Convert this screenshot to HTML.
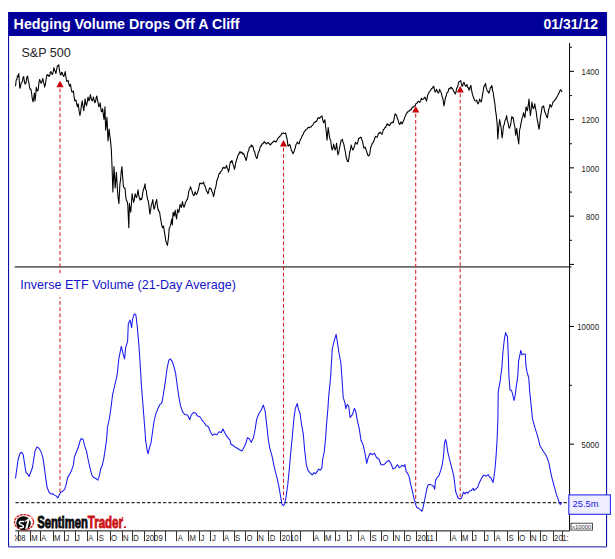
<!DOCTYPE html>
<html><head><meta charset="utf-8"><title>Hedging Volume Drops Off A Cliff</title>
<style>
html,body{margin:0;padding:0;background:#ffffff;}
body{width:615px;height:559px;position:relative;overflow:hidden;font-family:"Liberation Sans",sans-serif;}
</style></head><body>
<svg width="615" height="559" viewBox="0 0 615 559" style="position:absolute;left:0;top:0">
<rect x="0" y="0" width="615" height="559" fill="#ffffff"/>
<rect x="8" y="12" width="599" height="24" fill="#000099"/>
<rect x="8" y="12" width="1.1" height="535" fill="#1010a4"/>
<rect x="606" y="12" width="1.1" height="535" fill="#1010a4"/>
<rect x="8" y="546" width="599" height="1.6" fill="#6c6ccc"/>
<text x="13.6" y="29.3" font-family="Liberation Sans, sans-serif" font-weight="bold" font-size="14.4" fill="#ffffff" textLength="226" lengthAdjust="spacingAndGlyphs">Hedging Volume Drops Off A Cliff</text>
<text x="598" y="28.8" text-anchor="end" font-family="Liberation Sans, sans-serif" font-weight="bold" font-size="14" fill="#ffffff">01/31/12</text>
<text x="21.4" y="56.7" font-family="Liberation Sans, sans-serif" font-size="12.5" fill="#222222" textLength="49.4" lengthAdjust="spacingAndGlyphs">S&amp;P 500</text>
<text x="20.2" y="288.9" font-family="Liberation Sans, sans-serif" font-size="12.6" fill="#1414c8" textLength="215.7" lengthAdjust="spacingAndGlyphs">Inverse ETF Volume (21-Day Average)</text>
<rect x="14.7" y="266.2" width="556.8" height="1.4" fill="#444444"/>
<rect x="569" y="43" width="1.05" height="488" fill="#111111"/>
<rect x="570" y="70.8" width="4" height="1.1" fill="#111111"/>
<rect x="570" y="119.0" width="4" height="1.1" fill="#111111"/>
<rect x="570" y="167.3" width="4" height="1.1" fill="#111111"/>
<rect x="570" y="215.6" width="4" height="1.1" fill="#111111"/>
<rect x="570" y="263.9" width="4" height="1.1" fill="#111111"/>
<rect x="570" y="325.9" width="4" height="1.1" fill="#111111"/>
<rect x="570" y="443.6" width="4" height="1.1" fill="#111111"/>
<rect x="570" y="46.7" width="1.9" height="1.1" fill="#111111"/>
<rect x="570" y="95.0" width="1.9" height="1.1" fill="#111111"/>
<rect x="570" y="143.2" width="1.9" height="1.1" fill="#111111"/>
<rect x="570" y="191.5" width="1.9" height="1.1" fill="#111111"/>
<rect x="570" y="239.8" width="1.9" height="1.1" fill="#111111"/>
<rect x="570" y="384.8" width="1.9" height="1.1" fill="#111111"/>
<text transform="translate(599,75.0) scale(0.93,1)" text-anchor="end" font-family="Liberation Sans, sans-serif" font-size="8.4" fill="#222222">1400</text>
<text transform="translate(599,123.3) scale(0.93,1)" text-anchor="end" font-family="Liberation Sans, sans-serif" font-size="8.4" fill="#222222">1200</text>
<text transform="translate(599,171.6) scale(0.93,1)" text-anchor="end" font-family="Liberation Sans, sans-serif" font-size="8.4" fill="#222222">1000</text>
<text transform="translate(599,219.9) scale(0.93,1)" text-anchor="end" font-family="Liberation Sans, sans-serif" font-size="8.4" fill="#222222">800</text>
<text transform="translate(599,330.2) scale(0.93,1)" text-anchor="end" font-family="Liberation Sans, sans-serif" font-size="8.4" fill="#222222">10000</text>
<text transform="translate(599,447.9) scale(0.93,1)" text-anchor="end" font-family="Liberation Sans, sans-serif" font-size="8.4" fill="#222222">5000</text>
<rect x="15.3" y="530.2" width="554.7" height="1.3" fill="#444444"/>
<text transform="translate(31.3,540.7) scale(0.85,1)" font-family="Liberation Sans, sans-serif" font-size="9.1" fill="#2a2a2a">M</text>
<text transform="translate(41.3,540.7) scale(0.85,1)" font-family="Liberation Sans, sans-serif" font-size="9.1" fill="#2a2a2a">A</text>
<text transform="translate(54.0,540.7) scale(0.85,1)" font-family="Liberation Sans, sans-serif" font-size="9.1" fill="#2a2a2a">M</text>
<text transform="translate(65.5,540.7) scale(0.85,1)" font-family="Liberation Sans, sans-serif" font-size="9.1" fill="#2a2a2a">J</text>
<text transform="translate(76.0,540.7) scale(0.85,1)" font-family="Liberation Sans, sans-serif" font-size="9.1" fill="#2a2a2a">J</text>
<text transform="translate(88.2,540.7) scale(0.85,1)" font-family="Liberation Sans, sans-serif" font-size="9.1" fill="#2a2a2a">A</text>
<text transform="translate(98.7,540.7) scale(0.85,1)" font-family="Liberation Sans, sans-serif" font-size="9.1" fill="#2a2a2a">S</text>
<text transform="translate(110.9,540.7) scale(0.85,1)" font-family="Liberation Sans, sans-serif" font-size="9.1" fill="#2a2a2a">O</text>
<text transform="translate(123.0,540.7) scale(0.85,1)" font-family="Liberation Sans, sans-serif" font-size="9.1" fill="#2a2a2a">N</text>
<text transform="translate(133.3,540.7) scale(0.85,1)" font-family="Liberation Sans, sans-serif" font-size="9.1" fill="#2a2a2a">D</text>
<text transform="translate(145.5,540.7) scale(0.85,1)" font-family="Liberation Sans, sans-serif" font-size="9.1" fill="#2a2a2a">2009</text>
<text transform="translate(177.7,540.7) scale(0.85,1)" font-family="Liberation Sans, sans-serif" font-size="9.1" fill="#2a2a2a">A</text>
<text transform="translate(189.4,540.7) scale(0.85,1)" font-family="Liberation Sans, sans-serif" font-size="9.1" fill="#2a2a2a">M</text>
<text transform="translate(200.4,540.7) scale(0.85,1)" font-family="Liberation Sans, sans-serif" font-size="9.1" fill="#2a2a2a">J</text>
<text transform="translate(211.9,540.7) scale(0.85,1)" font-family="Liberation Sans, sans-serif" font-size="9.1" fill="#2a2a2a">J</text>
<text transform="translate(224.1,540.7) scale(0.85,1)" font-family="Liberation Sans, sans-serif" font-size="9.1" fill="#2a2a2a">A</text>
<text transform="translate(235.0,540.7) scale(0.85,1)" font-family="Liberation Sans, sans-serif" font-size="9.1" fill="#2a2a2a">S</text>
<text transform="translate(246.5,540.7) scale(0.85,1)" font-family="Liberation Sans, sans-serif" font-size="9.1" fill="#2a2a2a">O</text>
<text transform="translate(258.2,540.7) scale(0.85,1)" font-family="Liberation Sans, sans-serif" font-size="9.1" fill="#2a2a2a">N</text>
<text transform="translate(269.7,540.7) scale(0.85,1)" font-family="Liberation Sans, sans-serif" font-size="9.1" fill="#2a2a2a">D</text>
<text transform="translate(281.4,540.7) scale(0.85,1)" font-family="Liberation Sans, sans-serif" font-size="9.1" fill="#2a2a2a">2010</text>
<text transform="translate(314.1,540.7) scale(0.85,1)" font-family="Liberation Sans, sans-serif" font-size="9.1" fill="#2a2a2a">A</text>
<text transform="translate(325.0,540.7) scale(0.85,1)" font-family="Liberation Sans, sans-serif" font-size="9.1" fill="#2a2a2a">M</text>
<text transform="translate(336.8,540.7) scale(0.85,1)" font-family="Liberation Sans, sans-serif" font-size="9.1" fill="#2a2a2a">J</text>
<text transform="translate(348.2,540.7) scale(0.85,1)" font-family="Liberation Sans, sans-serif" font-size="9.1" fill="#2a2a2a">J</text>
<text transform="translate(359.9,540.7) scale(0.85,1)" font-family="Liberation Sans, sans-serif" font-size="9.1" fill="#2a2a2a">A</text>
<text transform="translate(371.4,540.7) scale(0.85,1)" font-family="Liberation Sans, sans-serif" font-size="9.1" fill="#2a2a2a">S</text>
<text transform="translate(382.4,540.7) scale(0.85,1)" font-family="Liberation Sans, sans-serif" font-size="9.1" fill="#2a2a2a">O</text>
<text transform="translate(394.6,540.7) scale(0.85,1)" font-family="Liberation Sans, sans-serif" font-size="9.1" fill="#2a2a2a">N</text>
<text transform="translate(405.5,540.7) scale(0.85,1)" font-family="Liberation Sans, sans-serif" font-size="9.1" fill="#2a2a2a">D</text>
<text transform="translate(417.2,540.7) scale(0.85,1)" font-family="Liberation Sans, sans-serif" font-size="9.1" fill="#2a2a2a">2011</text>
<text transform="translate(451.6,540.7) scale(0.85,1)" font-family="Liberation Sans, sans-serif" font-size="9.1" fill="#2a2a2a">A</text>
<text transform="translate(462.1,540.7) scale(0.85,1)" font-family="Liberation Sans, sans-serif" font-size="9.1" fill="#2a2a2a">M</text>
<text transform="translate(472.9,540.7) scale(0.85,1)" font-family="Liberation Sans, sans-serif" font-size="9.1" fill="#2a2a2a">J</text>
<text transform="translate(485.0,540.7) scale(0.85,1)" font-family="Liberation Sans, sans-serif" font-size="9.1" fill="#2a2a2a">J</text>
<text transform="translate(495.5,540.7) scale(0.85,1)" font-family="Liberation Sans, sans-serif" font-size="9.1" fill="#2a2a2a">A</text>
<text transform="translate(508.5,540.7) scale(0.85,1)" font-family="Liberation Sans, sans-serif" font-size="9.1" fill="#2a2a2a">S</text>
<text transform="translate(519.2,540.7) scale(0.85,1)" font-family="Liberation Sans, sans-serif" font-size="9.1" fill="#2a2a2a">O</text>
<text transform="translate(530.9,540.7) scale(0.85,1)" font-family="Liberation Sans, sans-serif" font-size="9.1" fill="#2a2a2a">N</text>
<text transform="translate(541.9,540.7) scale(0.85,1)" font-family="Liberation Sans, sans-serif" font-size="9.1" fill="#2a2a2a">D</text>
<text transform="translate(554.1,540.7) scale(0.85,1)" font-family="Liberation Sans, sans-serif" font-size="9.1" fill="#2a2a2a">20</text>
<text transform="translate(12.6,540.7) scale(0.85,1)" font-family="Liberation Sans, sans-serif" font-size="9.1" fill="#2a2a2a">008</text>
<rect x="9.3" y="532" width="5.6" height="10" fill="#ffffff"/>
<text transform="translate(562.3,540.7) scale(0.85,1)" font-family="Liberation Sans, sans-serif" font-size="9.1" fill="#2a2a2a">1:</text>
<rect x="18" y="531" width="1" height="10.2" fill="#333333"/>
<rect x="30" y="531" width="1" height="10.2" fill="#333333"/>
<rect x="40" y="531" width="1" height="10.2" fill="#333333"/>
<rect x="53" y="531" width="1" height="10.2" fill="#333333"/>
<rect x="64" y="531" width="1" height="10.2" fill="#333333"/>
<rect x="75" y="531" width="1" height="10.2" fill="#333333"/>
<rect x="87" y="531" width="1" height="10.2" fill="#333333"/>
<rect x="97" y="531" width="1" height="10.2" fill="#333333"/>
<rect x="110" y="531" width="1" height="10.2" fill="#333333"/>
<rect x="122" y="531" width="1" height="10.2" fill="#333333"/>
<rect x="132" y="531" width="1" height="10.2" fill="#333333"/>
<rect x="144" y="531" width="1" height="10.2" fill="#333333"/>
<rect x="154" y="531" width="1" height="10.2" fill="#333333"/>
<rect x="165" y="531" width="1" height="10.2" fill="#333333"/>
<rect x="176" y="531" width="1" height="10.2" fill="#333333"/>
<rect x="188" y="531" width="1" height="10.2" fill="#333333"/>
<rect x="199" y="531" width="1" height="10.2" fill="#333333"/>
<rect x="210" y="531" width="1" height="10.2" fill="#333333"/>
<rect x="223" y="531" width="1" height="10.2" fill="#333333"/>
<rect x="234" y="531" width="1" height="10.2" fill="#333333"/>
<rect x="245" y="531" width="1" height="10.2" fill="#333333"/>
<rect x="257" y="531" width="1" height="10.2" fill="#333333"/>
<rect x="268" y="531" width="1" height="10.2" fill="#333333"/>
<rect x="280" y="531" width="1" height="10.2" fill="#333333"/>
<rect x="291" y="531" width="1" height="10.2" fill="#333333"/>
<rect x="300" y="531" width="1" height="10.2" fill="#333333"/>
<rect x="313" y="531" width="1" height="10.2" fill="#333333"/>
<rect x="324" y="531" width="1" height="10.2" fill="#333333"/>
<rect x="335" y="531" width="1" height="10.2" fill="#333333"/>
<rect x="347" y="531" width="1" height="10.2" fill="#333333"/>
<rect x="358" y="531" width="1" height="10.2" fill="#333333"/>
<rect x="370" y="531" width="1" height="10.2" fill="#333333"/>
<rect x="381" y="531" width="1" height="10.2" fill="#333333"/>
<rect x="393" y="531" width="1" height="10.2" fill="#333333"/>
<rect x="404" y="531" width="1" height="10.2" fill="#333333"/>
<rect x="416" y="531" width="1" height="10.2" fill="#333333"/>
<rect x="426" y="531" width="1" height="10.2" fill="#333333"/>
<rect x="436" y="531" width="1" height="10.2" fill="#333333"/>
<rect x="450" y="531" width="1" height="10.2" fill="#333333"/>
<rect x="461" y="531" width="1" height="10.2" fill="#333333"/>
<rect x="472" y="531" width="1" height="10.2" fill="#333333"/>
<rect x="484" y="531" width="1" height="10.2" fill="#333333"/>
<rect x="494" y="531" width="1" height="10.2" fill="#333333"/>
<rect x="507" y="531" width="1" height="10.2" fill="#333333"/>
<rect x="518" y="531" width="1" height="10.2" fill="#333333"/>
<rect x="530" y="531" width="1" height="10.2" fill="#333333"/>
<rect x="540" y="531" width="1" height="10.2" fill="#333333"/>
<rect x="553" y="531" width="1" height="10.2" fill="#333333"/>
<rect x="562" y="531" width="1" height="10.2" fill="#333333"/>
<line x1="15.5" y1="502.7" x2="567" y2="502.7" stroke="#2a2a2a" stroke-width="1.2" stroke-dasharray="3.2,2.07"/>
<line x1="60.0" y1="88.4" x2="60.0" y2="492.0" stroke="#d42020" stroke-width="1.05" stroke-dasharray="3.75,2.5"/>
<path d="M60.0,80.7 L63.6,87.2 L56.4,87.2 z" fill="#c80008"/>
<line x1="283.5" y1="147.7" x2="283.5" y2="500.0" stroke="#d42020" stroke-width="1.05" stroke-dasharray="3.75,2.5"/>
<path d="M283.5,140.0 L287.1,146.5 L279.9,146.5 z" fill="#c80008"/>
<line x1="415.7" y1="113.8" x2="415.7" y2="502.0" stroke="#d42020" stroke-width="1.05" stroke-dasharray="3.75,2.5"/>
<path d="M415.7,106.1 L419.3,112.6 L412.1,112.6 z" fill="#c80008"/>
<line x1="460.2" y1="93.6" x2="460.2" y2="497.0" stroke="#d42020" stroke-width="1.05" stroke-dasharray="3.75,2.5"/>
<path d="M460.2,86.0 L463.8,92.4 L456.6,92.4 z" fill="#c80008"/>
<rect x="18" y="273.4" width="221" height="23.8" fill="#ffffff"/>
<text x="20.2" y="288.9" font-family="Liberation Sans, sans-serif" font-size="12.6" fill="#1414c8" textLength="215.7" lengthAdjust="spacingAndGlyphs">Inverse ETF Volume (21-Day Average)</text>
<path d="M15.5,86.2 L16.2,80.0 L16.9,79.3 L17.5,75.7 L18.1,76.6 L18.8,73.5 L19.8,88.2 L20.4,87.2 L21.1,83.2 L21.7,82.3 L22.4,81.5 L23.0,77.7 L23.7,76.5 L24.4,81.5 L25.2,84.3 L26.0,82.8 L26.8,77.4 L27.6,76.1 L28.2,80.4 L28.9,82.7 L29.5,87.2 L30.2,89.4 L30.8,89.0 L31.5,92.0 L32.2,98.2 L33.0,101.8 L33.7,98.0 L34.4,93.0 L35.0,100.9 L35.6,95.6 L36.3,87.2 L37.0,90.7 L37.7,91.0 L38.4,88.3 L39.0,82.1 L39.7,79.4 L40.5,82.0 L41.2,83.3 L42.0,81.3 L42.8,78.4 L43.4,82.2 L44.1,83.8 L44.7,87.2 L45.5,83.5 L46.3,78.1 L47.1,74.5 L47.7,75.5 L48.4,75.1 L49.0,76.5 L49.7,75.6 L50.3,72.1 L51.0,71.6 L51.8,73.9 L52.5,74.5 L53.2,71.9 L53.9,67.7 L54.6,70.3 L55.2,70.8 L55.9,73.5 L56.6,70.2 L57.4,65.7 L58.1,65.7 L58.8,64.8 L59.5,70.7 L60.3,74.5 L61.0,75.0 L61.6,72.2 L62.3,72.6 L63.0,75.3 L63.7,76.5 L64.5,74.5 L65.2,71.6 L65.9,76.9 L66.6,81.3 L67.3,81.3 L68.1,80.4 L68.8,83.6 L69.5,86.2 L70.5,84.3 L71.2,88.9 L72.0,92.0 L72.7,92.0 L73.4,91.0 L74.1,96.8 L74.8,100.9 L76.0,100.0 L76.7,104.1 L77.3,106.7 L78.3,103.8 L79.1,111.0 L79.9,115.5 L80.6,112.4 L81.2,106.7 L82.2,100.9 L83.0,106.2 L83.8,110.6 L84.4,105.5 L85.1,98.9 L85.8,103.7 L86.5,105.7 L87.2,102.3 L88.0,97.0 L89.0,100.9 L89.7,99.1 L90.4,94.6 L91.2,98.5 L92.0,100.9 L92.8,99.4 L93.5,97.0 L94.2,100.8 L94.9,102.8 L95.5,101.6 L96.2,97.6 L96.8,96.0 L97.5,100.0 L98.1,102.5 L98.8,106.7 L99.4,106.1 L100.1,102.8 L101.3,111.6 L102.0,111.6 L102.7,108.7 L103.3,114.7 L104.0,119.4 L105.0,106.7 L105.6,130.1 L106.3,124.6 L107.0,117.4 L108.0,140.9 L109.1,129.1 L109.8,135.6 L110.5,140.9 L111.3,149.0 L112.1,168.5 L112.9,192.0 L114.0,166.6 L115.2,188.0 L116.4,172.4 L117.6,192.0 L118.2,198.4 L118.9,203.7 L119.9,184.1 L120.6,179.7 L121.2,171.7 L121.9,166.6 L122.7,177.5 L123.4,186.1 L124.2,188.1 L125.0,188.0 L125.9,197.6 L126.5,200.9 L127.2,201.4 L127.8,205.4 L128.8,227.8 L129.4,203.4 L130.1,208.5 L130.7,212.2 L131.4,204.2 L132.1,193.7 L132.9,198.7 L133.7,202.4 L134.4,199.1 L135.2,193.7 L135.9,196.4 L136.6,197.6 L137.3,194.5 L138.0,189.8 L138.8,195.5 L139.5,198.5 L140.2,200.1 L140.8,198.4 L141.5,199.5 L142.1,197.6 L142.8,192.4 L143.4,189.8 L144.2,187.8 L145.0,183.9 L145.6,189.2 L146.3,190.5 L146.9,195.6 L147.6,199.4 L148.2,200.6 L148.9,205.4 L149.9,214.1 L150.6,210.5 L151.2,205.4 L152.0,203.2 L152.8,199.5 L153.4,205.7 L154.1,209.3 L154.8,207.1 L155.5,203.4 L156.7,199.5 L157.3,205.1 L158.0,209.3 L158.8,211.2 L159.6,212.2 L160.3,217.0 L161.0,221.0 L161.8,225.3 L162.5,227.8 L163.5,225.9 L164.2,230.8 L164.9,234.6 L165.6,239.5 L166.2,242.4 L167.4,245.4 L168.4,238.5 L169.2,228.8 L170.3,225.9 L171.0,223.2 L171.7,219.0 L172.3,224.9 L173.1,212.2 L174.2,216.1 L175.2,210.2 L175.9,215.5 L176.6,219.0 L177.6,209.3 L178.2,211.9 L178.9,212.2 L180.1,204.4 L180.8,206.6 L181.5,207.3 L182.4,201.5 L183.2,205.1 L184.0,207.3 L184.7,205.8 L185.4,202.4 L186.0,201.9 L186.7,200.0 L187.3,199.5 L188.0,197.2 L188.6,192.1 L189.3,189.8 L189.9,188.8 L190.6,186.8 L191.3,189.5 L191.9,190.7 L192.6,193.7 L193.8,195.6 L194.4,194.6 L195.1,191.7 L195.8,193.5 L196.5,194.6 L197.2,193.4 L198.0,190.7 L198.7,188.8 L199.3,185.0 L200.0,182.9 L200.7,183.7 L201.3,183.3 L202.0,183.9 L202.8,183.2 L203.5,182.0 L204.3,185.1 L205.1,186.1 L205.9,188.8 L206.5,191.2 L207.2,191.6 L207.8,193.7 L208.5,192.6 L209.1,189.1 L209.8,187.8 L210.6,188.9 L211.3,188.8 L212.0,191.9 L212.8,193.0 L213.5,196.6 L214.2,194.1 L214.8,190.2 L215.5,187.8 L216.1,185.6 L216.8,180.9 L217.4,179.0 L218.1,177.8 L218.7,174.6 L219.4,173.2 L220.0,173.5 L220.7,171.4 L221.3,171.2 L222.0,170.2 L222.6,168.1 L223.3,167.3 L223.9,168.3 L224.6,167.6 L225.2,168.3 L225.9,167.2 L226.6,165.4 L227.2,168.2 L227.9,169.3 L228.5,172.2 L229.2,169.0 L229.8,164.5 L230.5,161.5 L231.1,162.5 L231.8,160.4 L232.4,161.5 L233.1,165.0 L233.7,165.8 L234.4,169.3 L235.0,167.1 L235.7,163.0 L236.3,160.5 L237.0,158.8 L237.6,156.3 L238.3,154.6 L238.9,154.4 L239.6,152.0 L240.2,151.7 L240.9,153.1 L241.5,152.0 L242.2,152.7 L242.8,154.1 L243.5,153.3 L244.1,154.6 L244.8,157.2 L245.4,158.1 L246.1,160.5 L246.7,158.3 L247.4,154.4 L248.0,151.7 L248.7,150.6 L249.3,147.7 L250.0,146.8 L250.7,146.7 L251.4,144.9 L252.0,146.7 L252.7,146.0 L253.3,147.8 L254.0,151.0 L254.6,151.4 L255.3,154.6 L256.1,157.0 L256.8,158.5 L257.5,156.9 L258.1,153.2 L258.8,151.7 L259.4,150.5 L260.1,147.3 L260.7,145.9 L261.4,145.9 L262.0,143.8 L262.7,143.9 L263.4,143.1 L264.2,141.4 L264.9,142.7 L265.5,142.7 L266.2,143.9 L266.8,143.8 L267.5,142.6 L268.1,142.5 L268.8,143.5 L269.4,143.8 L270.1,144.9 L270.7,144.7 L271.4,143.2 L272.0,142.9 L272.7,142.6 L273.3,141.4 L274.0,141.0 L274.7,141.7 L275.3,141.3 L276.0,142.0 L276.8,140.9 L277.5,138.9 L278.3,138.0 L278.9,137.5 L279.6,136.4 L280.2,136.1 L280.9,135.3 L281.5,133.8 L282.2,133.2 L282.8,133.6 L283.5,132.9 L284.1,133.2 L284.9,133.5 L285.7,132.8 L286.4,136.3 L287.1,139.0 L288.0,145.9 L288.7,146.0 L289.3,144.6 L290.0,144.9 L291.0,148.8 L291.6,150.8 L292.3,151.8 L292.9,153.7 L293.6,152.6 L294.3,150.7 L295.1,148.3 L295.9,144.9 L296.6,143.8 L297.4,142.0 L298.1,143.3 L298.8,143.9 L299.4,142.9 L300.1,140.1 L300.7,139.0 L301.4,138.1 L302.0,135.8 L302.7,135.1 L303.3,134.1 L304.0,132.1 L304.6,131.2 L305.3,130.8 L305.9,129.6 L306.6,129.3 L307.2,129.1 L307.9,127.5 L308.5,127.3 L309.2,127.7 L309.8,127.0 L310.5,127.3 L311.1,127.0 L311.8,125.8 L312.4,125.4 L313.1,124.6 L313.7,123.1 L314.4,122.4 L315.0,122.5 L315.7,121.4 L316.3,121.5 L317.0,120.6 L317.6,118.5 L318.3,117.6 L319.0,118.3 L319.7,118.5 L320.5,116.8 L321.2,116.7 L322.0,115.9 L322.8,119.9 L323.5,122.7 L324.2,121.8 L324.9,119.8 L325.5,125.8 L326.2,130.5 L327.0,140.2 L328.2,127.6 L329.4,136.3 L330.0,139.2 L330.7,140.2 L331.4,146.3 L332.1,150.0 L332.9,148.1 L333.7,144.1 L334.4,147.8 L335.2,150.0 L335.9,147.9 L336.6,143.2 L337.3,150.4 L338.0,154.9 L338.8,152.2 L339.5,148.0 L340.3,144.6 L341.1,140.2 L341.8,140.2 L342.4,139.3 L343.1,142.8 L343.8,144.1 L344.6,148.4 L345.4,152.0 L346.1,156.8 L346.9,159.8 L347.6,161.5 L348.3,161.7 L349.0,157.5 L349.7,152.0 L350.4,149.6 L351.2,145.1 L352.0,147.9 L352.8,150.0 L353.5,148.9 L354.1,147.1 L354.8,145.2 L355.5,142.2 L356.3,143.4 L357.1,144.1 L357.9,141.9 L358.6,138.3 L359.4,138.3 L360.2,137.4 L361.0,137.3 L361.8,139.5 L362.5,141.2 L363.2,145.1 L363.9,148.0 L364.6,148.0 L365.3,147.1 L366.1,150.1 L366.8,152.0 L367.6,154.6 L368.4,155.9 L369.1,155.6 L369.8,153.9 L370.7,147.1 L371.5,145.9 L372.3,143.2 L373.0,142.8 L373.7,141.2 L374.3,139.8 L375.0,137.5 L375.6,136.3 L376.3,137.1 L377.0,137.3 L377.8,135.5 L378.5,133.4 L379.2,133.4 L379.8,132.3 L380.5,132.4 L381.2,133.6 L382.0,134.4 L382.7,132.2 L383.4,129.5 L384.1,129.2 L384.7,127.8 L385.4,127.6 L386.0,126.6 L386.7,124.7 L387.3,123.7 L388.0,124.9 L388.6,124.6 L389.3,125.6 L389.9,125.2 L390.6,123.1 L391.2,122.7 L391.9,122.9 L392.5,122.1 L393.2,122.7 L393.8,120.3 L394.5,116.6 L395.1,113.9 L395.8,114.8 L396.5,114.9 L397.2,117.9 L398.0,119.8 L398.8,122.8 L399.6,124.6 L400.3,123.6 L401.0,121.7 L401.6,123.2 L402.3,123.7 L403.5,120.7 L404.2,119.3 L404.9,116.8 L405.5,116.0 L406.2,113.7 L406.8,112.9 L407.5,112.6 L408.1,111.3 L408.8,111.0 L409.4,110.9 L410.1,109.9 L410.7,110.0 L411.4,109.5 L412.0,107.7 L412.7,107.1 L413.3,107.1 L414.0,106.2 L414.6,106.1 L415.3,105.6 L415.9,103.7 L416.6,103.2 L417.2,103.0 L417.9,101.6 L418.5,101.2 L419.2,102.1 L419.9,102.2 L420.7,100.5 L421.5,98.3 L422.2,99.4 L423.0,99.3 L423.7,99.1 L424.3,97.5 L425.0,97.1 L425.8,99.3 L426.6,101.0 L427.2,97.9 L427.9,94.1 L428.6,93.6 L429.2,91.6 L429.9,91.2 L430.5,90.7 L431.2,89.0 L431.8,88.3 L432.5,88.3 L433.1,86.7 L433.8,86.3 L434.5,89.9 L435.1,92.2 L435.9,91.1 L436.7,89.3 L437.5,91.7 L438.3,93.2 L439.0,92.0 L439.6,89.3 L440.3,91.3 L440.9,92.1 L441.6,94.1 L442.3,97.2 L443.0,99.0 L443.9,105.9 L444.7,102.3 L445.5,97.1 L446.1,96.3 L446.8,93.1 L447.4,92.2 L448.1,91.8 L448.7,89.0 L449.4,88.3 L450.0,88.9 L450.7,87.3 L451.3,87.3 L452.0,88.7 L452.6,88.6 L453.3,90.2 L453.9,91.9 L454.6,92.2 L455.2,94.1 L455.9,92.4 L456.5,89.0 L457.2,87.3 L457.8,86.1 L458.5,82.9 L459.1,81.5 L459.9,81.4 L460.7,80.5 L461.4,83.9 L462.1,86.3 L462.7,85.8 L463.4,82.9 L464.0,82.4 L464.8,84.7 L465.6,86.3 L466.3,86.1 L467.0,84.4 L467.6,87.3 L468.3,87.6 L468.9,90.2 L469.6,89.2 L470.2,86.6 L470.9,85.4 L471.5,89.9 L472.2,93.2 L473.0,96.1 L473.8,98.0 L474.6,100.2 L475.3,101.0 L476.0,100.8 L476.7,100.0 L477.4,102.8 L478.1,103.9 L478.9,102.1 L479.6,99.0 L480.4,101.0 L481.2,102.0 L481.9,98.9 L482.6,94.1 L483.2,90.9 L483.9,86.3 L484.7,85.5 L485.5,83.4 L486.2,87.6 L487.0,90.2 L487.7,91.6 L488.3,91.5 L489.0,93.2 L489.7,90.9 L490.4,87.3 L491.1,87.6 L491.9,85.4 L492.6,90.6 L493.3,93.2 L494.1,99.3 L494.9,103.9 L495.5,110.3 L496.2,114.6 L497.2,124.4 L497.8,139.0 L498.8,126.3 L499.7,119.5 L500.4,124.1 L501.1,127.3 L502.1,138.0 L502.8,133.2 L503.4,126.3 L504.2,124.7 L505.0,120.5 L505.8,119.4 L506.6,115.6 L507.2,119.9 L507.9,122.4 L508.6,126.0 L509.3,128.3 L510.5,125.4 L511.1,121.5 L511.8,116.6 L512.5,118.0 L513.2,117.6 L514.0,123.2 L514.8,126.3 L515.7,135.1 L516.7,128.3 L517.7,137.1 L518.7,143.9 L519.6,130.2 L520.3,127.4 L521.0,123.4 L522.2,117.6 L522.9,116.4 L523.5,112.7 L524.2,115.6 L524.9,117.6 L526.1,106.8 L526.8,109.5 L527.4,110.7 L528.2,105.6 L529.0,99.0 L529.7,108.6 L530.4,115.6 L531.1,109.7 L531.9,102.0 L532.6,106.3 L533.3,108.8 L534.0,107.6 L534.7,103.9 L535.5,108.4 L536.2,111.7 L537.0,118.4 L537.8,122.4 L538.5,126.4 L539.1,129.3 L539.8,123.9 L540.5,116.6 L541.3,112.4 L542.1,106.8 L542.9,106.9 L543.6,105.9 L544.7,111.6 L545.9,114.2 L546.6,116.6 L547.4,117.8 L548.6,109.8 L549.4,107.6 L550.1,104.4 L551.3,107.1 L552.2,104.9 L553.1,101.7 L554.0,101.3 L554.9,99.9 L555.8,99.0 L556.7,97.2 L557.6,95.7 L558.5,93.7 L559.3,92.7 L560.0,90.5 L560.8,89.7 L562.0,91.9" fill="none" stroke="#000000" stroke-width="1.08" stroke-linejoin="round"/>
<path d="M15.5,478.5 L16.8,468.8 L18.2,459.0 L20.1,453.2 L21.7,452.2 L23.3,455.1 L24.6,463.9 L26.0,472.7 L27.6,473.7 L29.1,476.6 L30.5,472.7 L32.4,467.8 L33.8,459.0 L35.0,451.2 L36.9,446.9 L38.9,448.3 L40.8,451.2 L42.8,457.1 L44.1,465.9 L45.5,476.6 L47.1,487.3 L49.0,492.2 L51.0,494.1 L52.5,493.8 L54.5,495.1 L56.4,496.1 L57.8,498.0 L59.2,495.1 L60.7,492.2 L62.7,491.2 L64.6,489.3 L66.2,484.4 L67.6,477.6 L69.5,474.6 L71.5,470.7 L73.4,464.9 L74.4,457.1 L76.3,452.2 L78.3,447.3 L79.9,441.5 L81.2,438.5 L83.2,439.5 L84.5,445.4 L86.5,451.2 L88.0,459.0 L90.0,467.8 L92.0,475.6 L93.9,477.6 L95.9,478.5 L97.8,480.1 L99.4,475.6 L100.7,468.8 L102.1,465.9 L103.7,459.0 L105.2,449.3 L106.6,439.5 L107.5,427.0 L109.5,418.0 L111.3,405.3 L112.5,395.2 L114.5,386.5 L117.1,375.2 L118.8,358.9 L121.3,346.4 L123.1,353.9 L124.6,358.9 L125.6,347.6 L127.6,341.4 L128.3,323.8 L130.1,320.1 L131.6,327.6 L132.6,318.8 L134.3,313.8 L135.9,315.0 L137.1,325.1 L138.9,345.1 L140.1,362.7 L141.4,385.2 L142.6,400.3 L143.5,412.0 L144.6,425.8 L145.7,440.8 L147.2,450.5 L148.2,453.7 L149.3,448.3 L151.0,442.9 L152.5,432.2 L154.0,421.5 L155.8,414.0 L157.9,408.6 L160.1,404.3 L161.9,402.8 L163.2,395.2 L165.2,382.7 L167.2,367.7 L168.9,360.2 L170.2,358.9 L172.2,361.4 L173.9,366.4 L175.7,373.9 L177.2,385.2 L179.0,397.7 L180.4,405.4 L182.6,411.8 L184.7,414.6 L187.5,415.0 L189.7,419.8 L191.2,415.0 L193.3,412.5 L195.5,412.9 L197.6,416.1 L199.8,416.7 L201.9,419.8 L204.1,422.5 L206.2,425.8 L208.4,426.8 L210.5,432.2 L212.7,435.4 L214.8,433.9 L216.9,434.8 L219.1,431.8 L221.2,432.6 L223.0,429.0 L224.5,432.2 L226.2,435.4 L228.3,438.2 L229.8,439.7 L230.9,444.0 L233.0,445.5 L235.2,447.2 L237.3,448.3 L239.5,449.8 L241.9,450.9 L244.2,447.0 L245.8,443.5 L247.4,437.7 L249.3,438.8 L251.2,442.3 L253.5,437.7 L255.1,429.5 L256.7,419.1 L259.1,413.3 L261.4,409.8 L263.3,405.1 L265.1,410.9 L266.7,424.9 L268.4,440.0 L269.8,448.1 L272.1,456.3 L273.7,464.4 L275.3,471.4 L277.2,478.4 L279.1,487.7 L280.7,497.0 L281.9,504.0 L283.3,505.6 L284.7,504.0 L286.0,497.0 L287.7,485.3 L289.3,469.1 L290.7,452.8 L292.3,436.5 L294.0,417.9 L295.3,408.6 L297.2,403.5 L298.6,409.8 L300.0,413.3 L301.6,424.9 L303.3,434.2 L304.7,450.5 L306.3,464.4 L307.9,470.2 L309.8,472.6 L312.1,474.9 L314.0,472.6 L315.6,473.7 L317.2,471.4 L318.6,469.1 L320.2,470.2 L321.9,467.9 L322.6,459.8 L324.2,452.0 L325.6,438.0 L326.5,424.9 L327.9,408.6 L328.6,397.4 L330.6,377.3 L332.3,348.7 L334.4,340.1 L336.1,334.3 L337.5,342.9 L338.7,351.5 L340.9,363.0 L342.1,380.2 L343.2,397.4 L345.0,403.1 L345.8,408.8 L347.2,404.5 L348.7,406.0 L350.1,417.4 L352.4,414.6 L354.4,408.3 L355.8,411.7 L357.3,420.3 L359.3,428.9 L361.0,440.3 L363.0,444.6 L365.0,453.2 L366.7,463.3 L368.2,457.5 L370.2,453.2 L372.5,454.7 L374.5,453.2 L376.5,457.5 L378.8,459.0 L381.1,464.7 L383.9,464.7 L386.8,461.8 L388.8,460.4 L390.8,463.3 L393.1,469.0 L395.4,467.6 L397.4,464.7 L399.4,467.6 L400.5,466.8 L402.0,465.3 L403.9,466.4 L404.9,464.5 L406.2,471.7 L407.8,473.7 L409.4,477.6 L410.7,484.4 L412.1,490.2 L413.7,497.1 L415.2,502.9 L416.6,507.4 L418.5,508.2 L420.5,509.8 L421.9,511.3 L423.0,507.8 L424.4,501.0 L425.8,494.1 L426.9,488.3 L428.3,484.8 L430.2,484.4 L432.2,485.4 L433.6,486.3 L434.7,489.3 L435.5,480.5 L437.1,477.6 L439.0,475.6 L440.6,470.7 L442.0,465.9 L443.3,458.0 L444.5,443.4 L445.5,439.5 L446.4,442.4 L447.8,452.2 L449.2,458.0 L450.7,463.9 L452.3,469.8 L453.7,475.6 L454.6,482.4 L455.6,491.2 L457.0,495.1 L458.1,498.0 L460.1,499.0 L461.5,498.0 L462.4,495.1 L463.4,492.2 L464.8,493.8 L466.3,492.2 L467.9,493.2 L469.3,491.2 L471.2,490.6 L473.2,488.3 L474.1,490.6 L476.1,488.7 L477.7,487.3 L479.0,483.4 L480.4,480.5 L482.0,477.6 L483.5,475.2 L484.9,475.6 L486.2,476.2 L488.2,474.6 L489.4,477.0 L490.7,477.6 L492.1,480.5 L493.1,482.4 L494.0,476.6 L495.0,468.8 L496.0,457.1 L497.0,441.5 L497.9,419.3 L498.2,391.6 L500.2,380.8 L502.0,366.5 L502.9,352.2 L504.3,339.7 L505.6,332.5 L506.5,335.2 L507.4,336.1 L508.3,355.8 L509.0,377.2 L510.0,389.8 L511.5,390.7 L512.7,394.2 L514.0,400.5 L515.1,396.0 L516.3,386.2 L517.7,377.2 L518.6,361.1 L519.9,354.9 L520.8,350.4 L522.0,354.9 L523.5,354.0 L525.3,354.0 L525.8,364.7 L527.0,371.9 L528.8,378.1 L529.7,391.6 L531.2,405.9 L532.4,418.4 L535.2,428.7 L537.9,437.1 L539.9,445.6 L543.0,450.7 L546.4,455.8 L548.8,462.6 L551.5,476.2 L554.2,486.4 L556.6,494.9 L559.0,501.7 L560.3,504.5 L561.7,502.2" fill="none" stroke="#1818f0" stroke-width="1.05" stroke-linejoin="round"/>
<rect x="568.8" y="494.9" width="41.6" height="19.4" fill="#eeeeff" stroke="#2a2af0" stroke-width="1.1"/>
<text x="572.5" y="507.4" font-family="Liberation Sans, sans-serif" font-size="9.6" fill="#2020e0" textLength="26.1" lengthAdjust="spacingAndGlyphs">25.5m</text>
<rect x="571" y="523.2" width="21.4" height="6.9" fill="#ffffff" stroke="#222222" stroke-width="0.8"/>
<text x="572" y="529.2" font-family="Liberation Sans, sans-serif" font-size="5.8" fill="#333333" textLength="19.4" lengthAdjust="spacingAndGlyphs">x10000</text>
<g>
<ellipse cx="24.05" cy="522.2" rx="9.5" ry="7.6" fill="#ffffff" stroke="#d41414" stroke-width="1.3" stroke-dasharray="2.9,0.7"/>
<ellipse cx="23.5" cy="523.1" rx="7.3" ry="6.8" fill="#050505"/>
<path d="M24.3,521.4 L20.4,521.5 Q18.5,522.4 19.7,523.9 L23.1,525.6 Q24,526.8 22.6,527.6 L19.4,528.1" fill="none" stroke="#ffffff" stroke-width="1.5" stroke-linejoin="round"/>
<path d="M25.1,529.2 L27.5,528.6 L29.9,518.6 L27.7,519.3 z" fill="#ffffff"/>
<path d="M24.6,520.9 L32.2,515.9 L31.6,518.0 L25.2,522.0 z" fill="#ffffff"/>
<text x="37.2" y="527.9" font-family="Liberation Sans, sans-serif" font-weight="bold" font-size="16" fill="#0a0a0a" stroke="#0a0a0a" stroke-width="0.85" textLength="50.6" lengthAdjust="spacingAndGlyphs">Sentimen</text>
<text x="87.8" y="527.9" font-family="Liberation Sans, sans-serif" font-weight="bold" font-size="16" fill="#cc1414" stroke="#cc1414" stroke-width="0.85" textLength="35.2" lengthAdjust="spacingAndGlyphs">Trader</text>
<rect x="123.9" y="526.3" width="2" height="1.7" fill="#cc1414"/>
<rect x="121.8" y="517" width="1.4" height="1.2" fill="#cc1414"/>
</g>
</svg>
</body></html>
